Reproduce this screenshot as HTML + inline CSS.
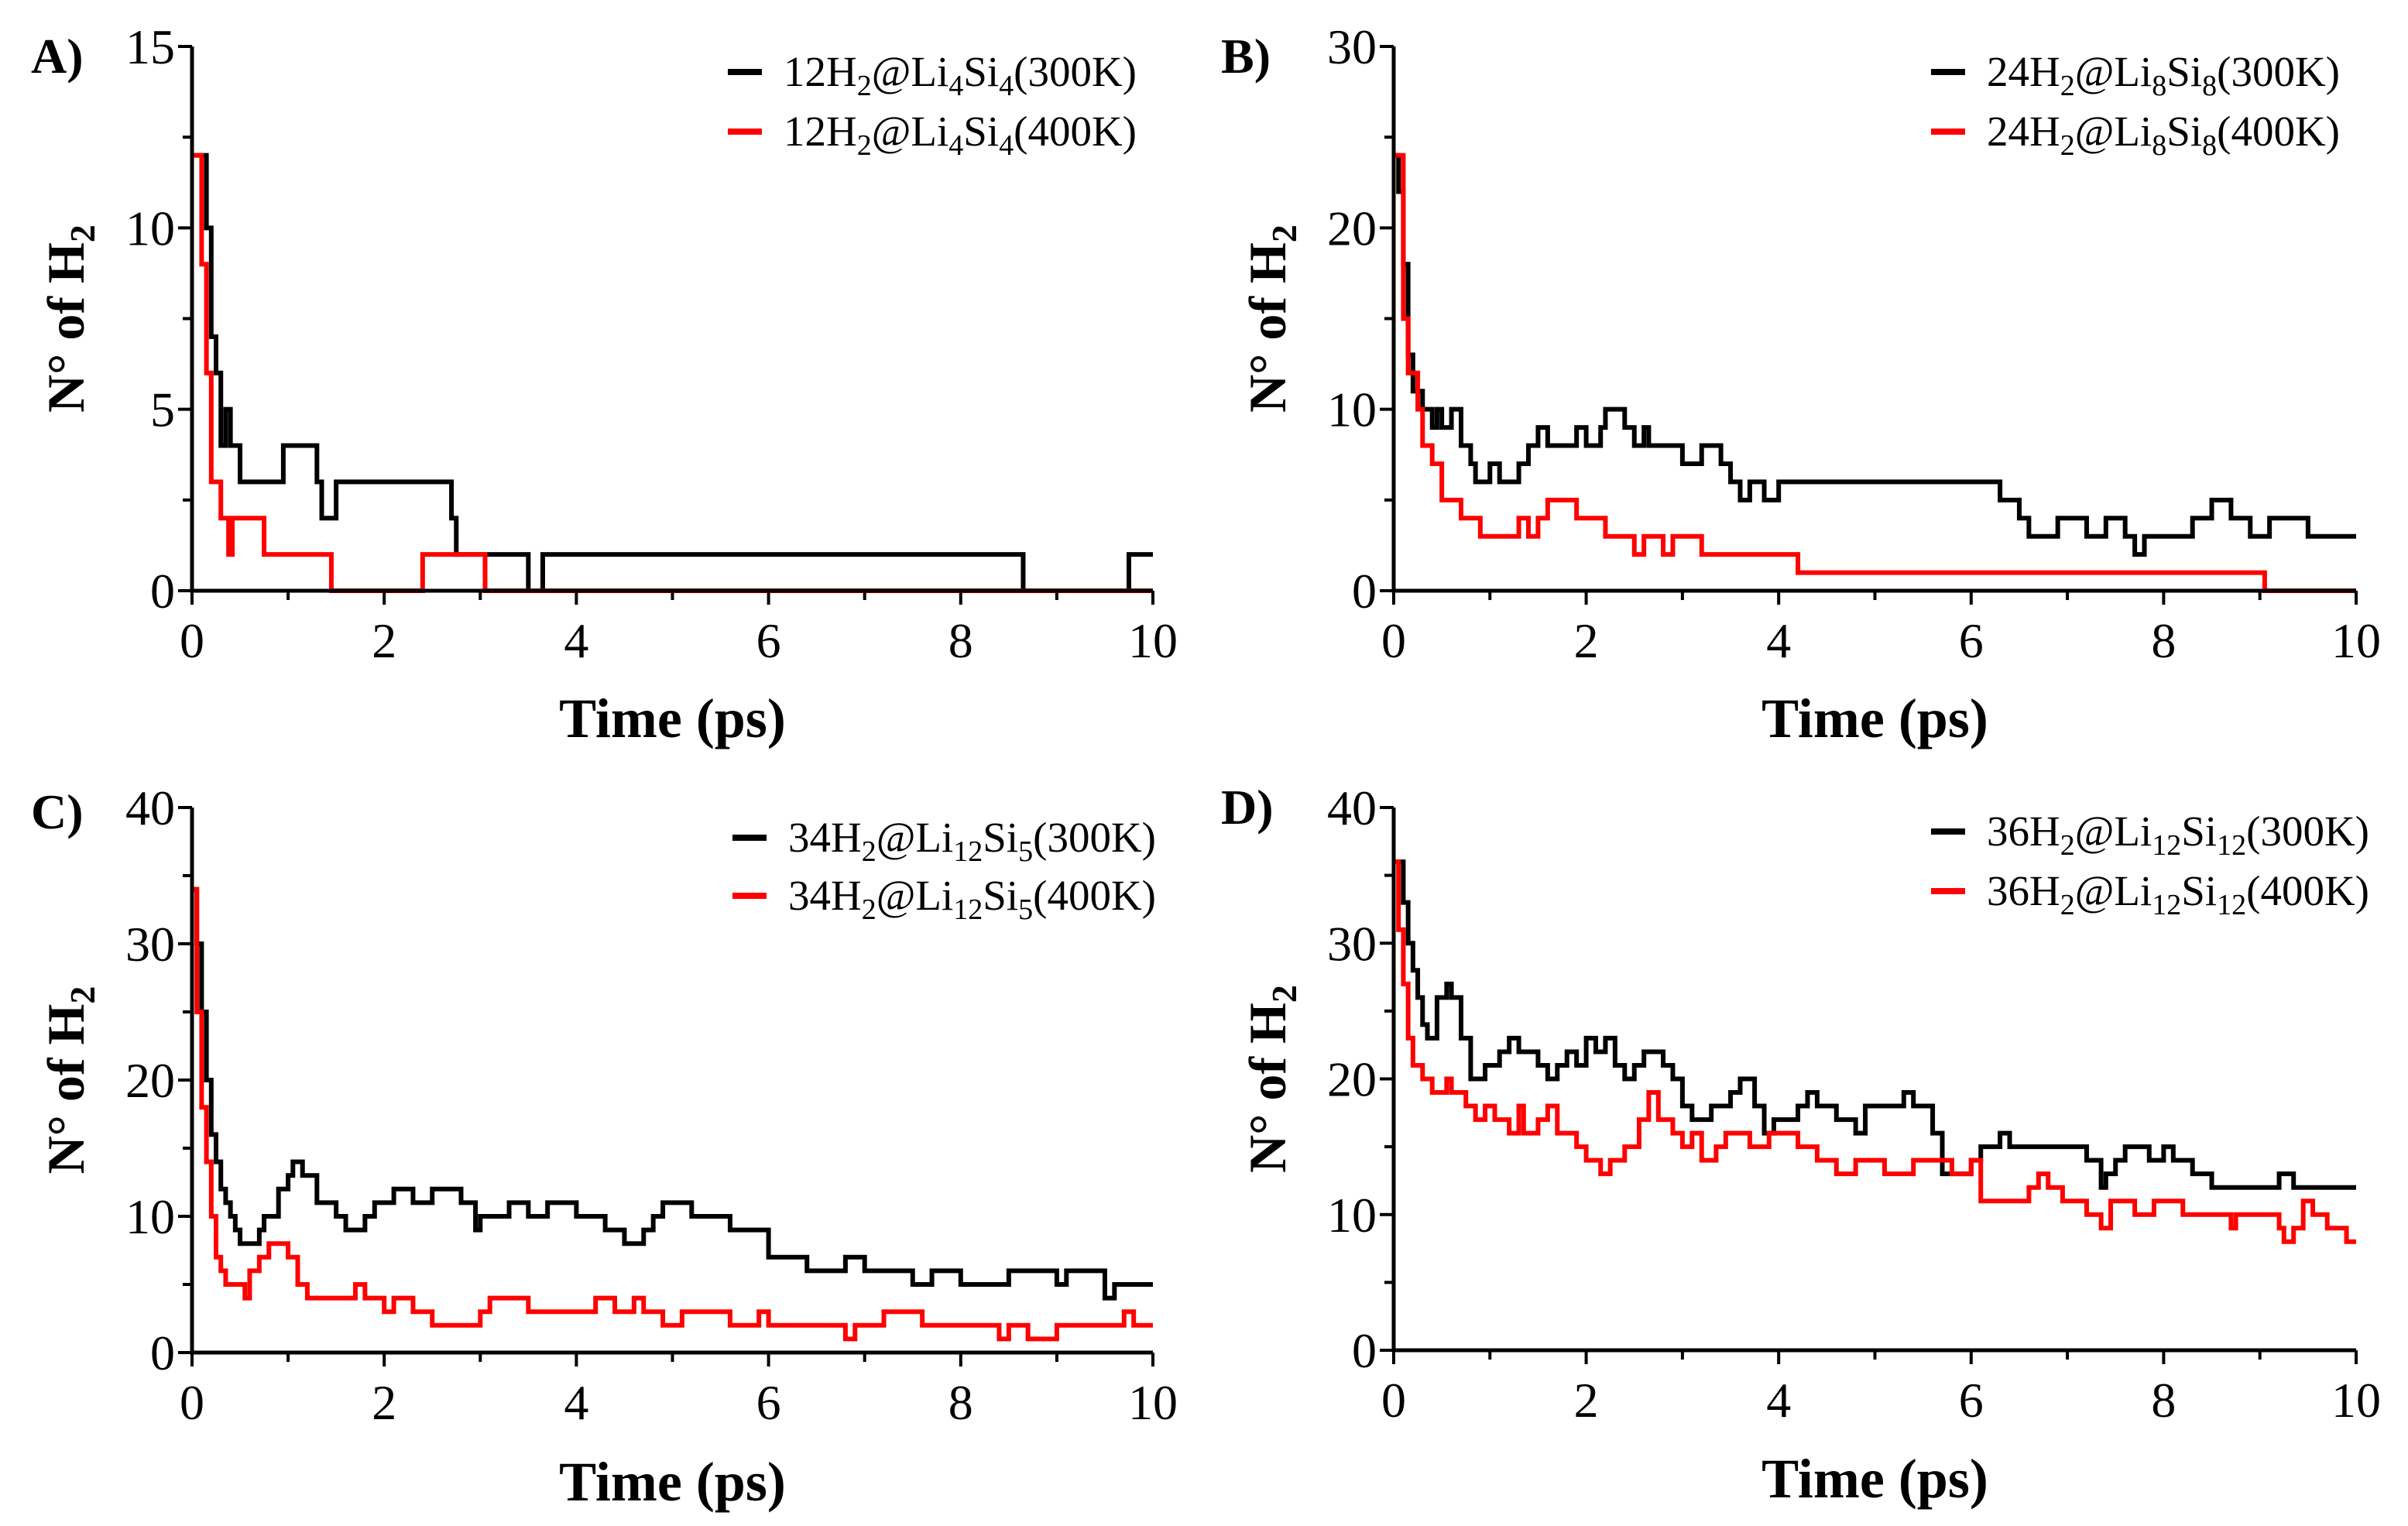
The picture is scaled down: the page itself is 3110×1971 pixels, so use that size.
<!DOCTYPE html>
<html><head><meta charset="utf-8"><style>
html,body{margin:0;padding:0;background:#fff;}
svg{display:block;font-family:"Liberation Serif",serif;}
</style></head><body>
<svg id="fig" width="3110" height="1971" viewBox="0 0 3110 1971" xmlns="http://www.w3.org/2000/svg"></svg>
<script>
// ---- data (time in ps, number of H2) ----
const tA300=[0,0.15,0.2,0.25,0.3,0.35,0.4,0.5,0.95,1.3,1.35,1.5,2.7,2.75,3.5,3.65,8.65,9.75,10];
const vA300=[12,10,7,6,4,5,4,3,4,3,2,3,2,1,0,1,0,1,1];
const tA400=[0,0.1,0.15,0.2,0.3,0.38,0.42,0.75,1.45,2.4,3.05,10];
const vA400=[12,9,6,3,2,1,2,1,0,1,0,0];
const tB300=[0,0.05,0.1,0.15,0.2,0.3,0.4,0.45,0.5,0.6,0.7,0.8,0.85,1,1.1,1.3,1.4,1.5,1.6,1.9,2,2.15,2.2,2.4,2.5,2.6,2.65,3,3.2,3.4,3.5,3.6,3.7,3.85,4,6.3,6.5,6.6,6.9,7.2,7.4,7.6,7.7,7.8,8.3,8.5,8.7,8.9,9.1,9.5,10];
const vB300=[24,22,18,13,11,10,9,10,9,10,8,7,6,7,6,7,8,9,8,9,8,9,10,9,8,9,8,7,8,7,6,5,6,5,6,5,4,3,4,3,4,3,2,3,4,5,4,3,4,3,3];
const tB400=[0,0.1,0.15,0.25,0.3,0.4,0.5,0.7,0.9,1.3,1.4,1.5,1.6,1.9,2.2,2.5,2.6,2.8,2.9,3.2,4.2,9.05,10];
const vB400=[24,15,12,10,8,7,5,4,3,4,3,4,5,4,3,2,3,2,3,2,1,0,0];
const tC300=[0,0.05,0.1,0.15,0.2,0.25,0.3,0.35,0.4,0.45,0.5,0.7,0.75,0.9,1,1.05,1.15,1.3,1.5,1.6,1.8,1.9,2.1,2.3,2.5,2.8,2.95,3,3.3,3.5,3.7,4,4.3,4.5,4.7,4.8,4.9,5.2,5.6,6,6.4,6.8,7,7.5,7.7,8,8.5,9,9.1,9.5,9.6,10];
const vC300=[34,30,25,20,16,14,12,11,10,9,8,9,10,12,13,14,13,11,10,9,10,11,12,11,12,11,9,10,11,10,11,10,9,8,9,10,11,10,9,7,6,7,6,5,6,5,6,5,6,4,5,5];
const tC400=[0,0.05,0.1,0.15,0.2,0.25,0.3,0.35,0.55,0.6,0.7,0.8,1,1.1,1.2,1.7,1.8,2,2.1,2.3,2.5,3,3.1,3.5,4.2,4.4,4.6,4.7,4.9,5.1,5.6,5.9,6,6.8,6.9,7.2,7.6,8.4,8.5,8.7,9,9.7,9.8,10];
const vC400=[34,25,18,14,10,7,6,5,4,6,7,8,7,5,4,5,4,3,4,3,2,3,4,3,4,3,4,3,2,3,2,3,2,1,2,3,2,1,2,1,2,3,2,2];
const tD300=[0,0.1,0.15,0.2,0.25,0.3,0.35,0.45,0.55,0.6,0.7,0.8,0.95,1.1,1.2,1.3,1.5,1.6,1.7,1.8,1.9,2,2.1,2.2,2.3,2.4,2.5,2.6,2.8,2.9,3,3.1,3.3,3.5,3.6,3.75,3.85,3.95,4.2,4.3,4.4,4.6,4.8,4.9,5.3,5.4,5.6,5.7,6,6.1,6.3,6.4,7.2,7.35,7.4,7.5,7.6,7.85,8,8.1,8.3,8.5,9.2,9.35,10];
const vD300=[36,33,30,28,26,24,23,26,27,26,23,20,21,22,23,22,21,20,21,22,21,23,22,23,21,20,21,22,21,20,18,17,18,19,20,18,16,17,18,19,18,17,16,18,19,18,16,13,14,15,16,15,14,12,13,14,15,14,15,14,13,12,13,12,12];
const tD400=[0,0.05,0.1,0.15,0.2,0.3,0.4,0.55,0.6,0.75,0.85,0.95,1.05,1.2,1.3,1.35,1.5,1.6,1.7,1.9,2,2.15,2.25,2.4,2.55,2.65,2.75,2.9,3,3.1,3.2,3.35,3.45,3.7,3.9,4.2,4.4,4.6,4.8,5.1,5.4,5.8,6,6.1,6.6,6.7,6.8,6.95,7.2,7.35,7.45,7.7,7.9,8.2,8.7,8.75,9.2,9.25,9.35,9.45,9.55,9.7,9.9,10];
const vD400=[36,31,27,23,21,20,19,20,19,18,17,18,17,16,18,16,17,18,16,15,14,13,14,15,17,19,17,16,15,16,14,15,16,15,16,15,14,13,14,13,14,13,14,11,12,13,12,11,10,9,11,10,11,10,9,10,9,8,9,11,10,9,8,8];
const xTicks=[0,2,4,6,8,10];
const yTicksA=[0,5,10,15], yTicksB=[0,10,20,30], yTicksC=[0,10,20,30,40], yTicksD=[0,10,20,30,40];

const NS="http://www.w3.org/2000/svg";
const svg=document.getElementById('fig');
function mk(tag,attrs,parent){const e=document.createElementNS(NS,tag);for(const k in attrs)e.setAttribute(k,attrs[k]);(parent||svg).appendChild(e);return e;}

const panels=[
 {id:'a',label:'A)',x0:248,x1:1489,y0:763,y1:60,ymax:15,yt:yTicksA,ymin:2.5,lx:940,ly:[93,170],
  s:[[tA300,vA300,'#000'],[tA400,vA400,'#f00']],
  leg:[['12H','2','@Li','4','Si','4','(300K)'],['12H','2','@Li','4','Si','4','(400K)']],lab:[40,70],xt:928},
 {id:'b',label:'B)',x0:1800,x1:3043,y0:763,y1:60,ymax:30,yt:yTicksB,ymin:5,lx:2494,ly:[93,170],
  s:[[tB300,vB300,'#000'],[tB400,vB400,'#f00']],
  leg:[['24H','2','@Li','8','Si','8','(300K)'],['24H','2','@Li','8','Si','8','(400K)']],lab:[1577,70],xt:928},
 {id:'c',label:'C)',x0:248,x1:1489,y0:1747,y1:1043,ymax:40,yt:yTicksC,ymin:5,lx:946,ly:[1082,1157],
  s:[[tC300,vC300,'#000'],[tC400,vC400,'#f00']],
  leg:[['34H','2','@Li','12','Si','5','(300K)'],['34H','2','@Li','12','Si','5','(400K)']],lab:[40,1046],xt:1914},
 {id:'d',label:'D)',x0:1800,x1:3043,y0:1744,y1:1043,ymax:40,yt:yTicksD,ymin:5,lx:2494,ly:[1074,1151],
  s:[[tD300,vD300,'#000'],[tD400,vD400,'#f00']],
  leg:[['36H','2','@Li','12','Si','12','(300K)'],['36H','2','@Li','12','Si','12','(400K)']],lab:[1577,1040],xt:1910}
];

panels.forEach(p=>{
  const g=mk('g',{});
  
  
  const X=t=>p.x0+(p.x1-p.x0)*t/10;
  const Y=v=>p.y0-(p.y0-p.y1)*v/p.ymax;
  p.s.forEach((s,si)=>{
    const [ts,vs,col]=s;
    let d='M'+X(ts[0])+','+Y(vs[0]);
    for(let i=1;i<ts.length;i++){d+=' H'+X(ts[i])+' V'+Y(vs[i]);}
    const path=mk('path',{d:d,fill:'none',stroke:col,'stroke-width':6,'stroke-linejoin':'miter'},g);
    
    
  });
  const ax=mk('path',{d:`M${p.x0},${p.y1} V${p.y0} H${p.x1}`,fill:'none',stroke:'#000','stroke-width':5},g);
  
  
  for(let t=0;t<=10;t++){
    const big=t%2===0;
    mk('line',{x1:X(t),x2:X(t),y1:p.y0,y2:p.y0+(big?18:12),stroke:'#000','stroke-width':4},g);
  }
  xTicks.forEach(t=>{
    const tx=mk('text',{x:X(t),y:p.y0+86,'font-size':64,'text-anchor':'middle'},g);
    tx.textContent=t;
    
    
  });
  for(let v=0;v<=p.ymax+0.001;v+=p.ymin){
    const big=p.yt.some(q=>Math.abs(q-v)<1e-6);
    mk('line',{x1:p.x0,x2:p.x0-(big?18:12),y1:Y(v),y2:Y(v),stroke:'#000','stroke-width':4},g);
  }
  p.yt.forEach(v=>{
    const tx=mk('text',{x:p.x0-22,y:Y(v)+22,'font-size':64,'text-anchor':'end'},g);
    tx.textContent=v;
    
    
  });
  const xt=mk('text',{x:(p.x0+p.x1)/2,y:p.xt+24,'font-size':72,'font-weight':'bold','text-anchor':'middle'},g);
  xt.textContent='Time (ps)';
  
  
  const cy=(p.y0+p.y1)/2;
  const yt=mk('text',{x:0,y:0,'font-size':68,'font-weight':'bold','text-anchor':'middle',transform:`translate(${p.x0-140},${cy}) rotate(-90)`},g);
  yt.innerHTML='N° of H<tspan font-size="46" dy="14">2</tspan>';
  
  
  const pl=mk('text',{x:p.lab[0],y:p.lab[1]+24,'font-size':64,'font-weight':'bold'},g);
  pl.textContent=p.label;
  
  
  p.leg.forEach((parts,i)=>{
    const col=i===0?'#000':'#f00';
    const ly=p.ly[i];
    const lg=mk('g',{},g);
    
    
    mk('line',{x1:p.lx,x2:p.lx+44,y1:ly,y2:ly,stroke:col,'stroke-width':8},lg);
    const tx=mk('text',{x:p.lx+72,y:ly+18,'font-size':55},lg);
    let h='';
    parts.forEach((s,k)=>{ if(k%2===1) h+=`<tspan font-size="38" dy="12">${s}</tspan>`; else h+=`<tspan dy="${k===0?0:-12}">${s}</tspan>`; });
    tx.innerHTML=h;
  });
});
</script>
</body></html>
